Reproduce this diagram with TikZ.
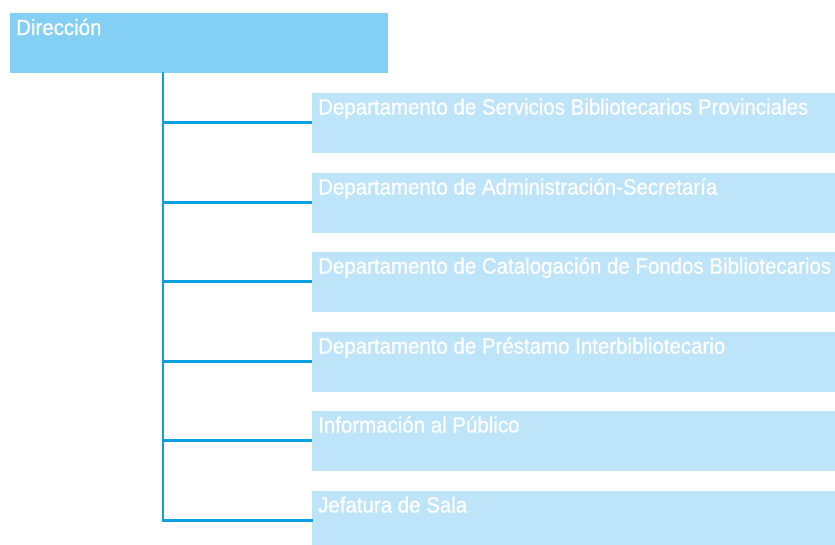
\documentclass[tikz,border=0pt]{standalone}
\usepackage{fontspec}
\setmainfont[FakeStretch=0.93,FakeBold=0.8]{Liberation Sans}
\definecolor{topfill}{HTML}{84CFF4}
\definecolor{childfill}{HTML}{BDE4F9}
\definecolor{linec}{HTML}{0BA0E2}
\begin{document}
\begin{tikzpicture}[x=1pt,y=-1pt,
  topbox/.style={fill=topfill,draw=none},
  childbox/.style={fill=childfill,draw=none},
  lbl/.style={anchor=base west,text=white,font=\fontsize{22}{24}\selectfont,inner sep=0pt},
  conn/.style={draw=linec,line width=2.2pt}]
\useasboundingbox (0,0) rectangle (835,544);
\fill[topbox] (10,13) rectangle (388,73);
\node[lbl] (dir) at (16,35) {Dirección};
\coordinate (root) at (163,73);
\foreach \i/\t/\txt in {1/93/Departamento de Servicios Bibliotecarios Provinciales,
  2/173/Departamento de Administración-Secretaría,
  3/252/Departamento de Catalogación de Fondos Bibliotecarios,
  4/332/Departamento de Préstamo Interbibliotecario,
  5/411/Información al Público,
  6/491/Jefatura de Sala}{
  \fill[childbox] (312,\t) rectangle (835,\t+60);
  \node[lbl] (c\i) at (318,\t+21.5) {\txt};
  \coordinate (e\i) at (312,\t+29.5);
  \coordinate (b\i) at (163,\t+29.5);
}
\draw[conn,line cap=rect] (root) -- (b6) -- (e6);
\foreach \i in {1,...,5}{\draw[conn] (b\i) -- (e\i);}
\end{tikzpicture}
\end{document}
